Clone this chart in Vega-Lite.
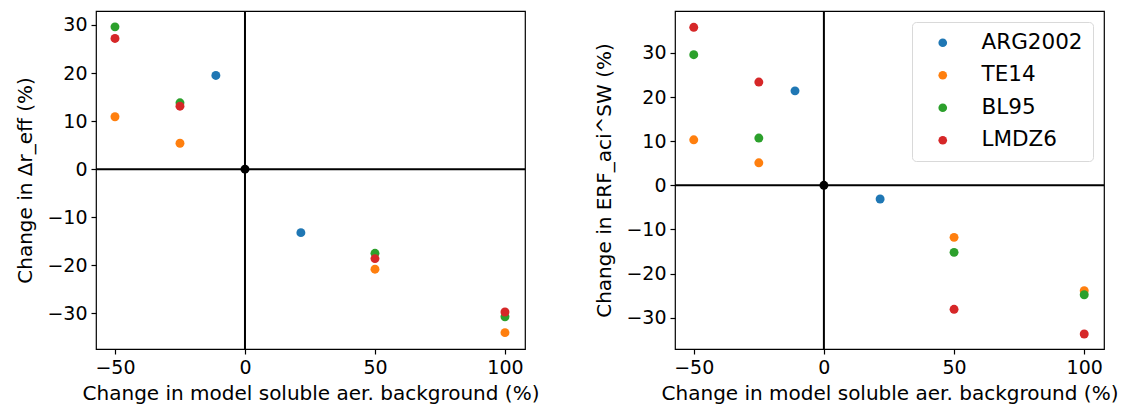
{
  "$schema": "https://vega.github.io/schema/vega-lite/v6.json",
  "padding": {"left": 15, "top": 9, "right": 5, "bottom": 5},
  "background": "white",
  "datasets": {
    "origin": [{"x": 0, "y": 0}],
    "left": [
      {"model": "ARG2002", "x": -11.2, "y": 19.5},
      {"model": "ARG2002", "x": 21.5, "y": -13.2},
      {"model": "TE14", "x": -50, "y": 10.9},
      {"model": "TE14", "x": -25, "y": 5.4},
      {"model": "TE14", "x": 50, "y": -20.8},
      {"model": "TE14", "x": 100, "y": -34.0},
      {"model": "BL95", "x": -50, "y": 29.6},
      {"model": "BL95", "x": -25, "y": 13.8},
      {"model": "BL95", "x": 50, "y": -17.5},
      {"model": "BL95", "x": 100, "y": -30.7},
      {"model": "LMDZ6", "x": -50, "y": 27.2},
      {"model": "LMDZ6", "x": -25, "y": 13.1},
      {"model": "LMDZ6", "x": 50, "y": -18.6},
      {"model": "LMDZ6", "x": 100, "y": -29.7}
    ],
    "right": [
      {"model": "ARG2002", "x": -11.1, "y": 21.4},
      {"model": "ARG2002", "x": 21.6, "y": -3.1},
      {"model": "TE14", "x": -50, "y": 10.3},
      {"model": "TE14", "x": -25, "y": 5.1},
      {"model": "TE14", "x": 50, "y": -11.8},
      {"model": "TE14", "x": 100, "y": -23.9},
      {"model": "BL95", "x": -50, "y": 29.6},
      {"model": "BL95", "x": -25, "y": 10.7},
      {"model": "BL95", "x": 50, "y": -15.2},
      {"model": "BL95", "x": 100, "y": -24.8},
      {"model": "LMDZ6", "x": -50, "y": 35.8},
      {"model": "LMDZ6", "x": -25, "y": 23.4},
      {"model": "LMDZ6", "x": 50, "y": -28.1},
      {"model": "LMDZ6", "x": 100, "y": -33.7}
    ]
  },
  "hconcat": [
    {
      "width": 429,
      "height": 338,
      "layer": [
        {"data": {"name": "origin"}, "mark": {"type": "rule", "color": "black", "strokeWidth": 2}, "encoding": {"x": {"field": "x", "type": "quantitative"}}},
        {"data": {"name": "origin"}, "mark": {"type": "rule", "color": "black", "strokeWidth": 2}, "encoding": {"y": {"field": "y", "type": "quantitative"}}},
        {
          "data": {"name": "left"},
          "mark": {"type": "point", "filled": true, "opacity": 1, "size": 80},
          "encoding": {
            "x": {"field": "x", "type": "quantitative", "scale": {"domain": [-57.3, 107.7], "nice": false, "zero": false}, "axis": {"values": [-50, 0, 50, 100], "title": "Change in model soluble aer. background (%)"}},
            "y": {"field": "y", "type": "quantitative", "scale": {"domain": [-37.4, 32.9], "nice": false, "zero": false}, "axis": {"values": [-30, -20, -10, 0, 10, 20, 30], "title": "Change in Δr_eff (%)"}},
            "color": {"field": "model", "type": "nominal", "scale": {"domain": ["ARG2002", "TE14", "BL95", "LMDZ6"], "range": ["#1f77b4", "#ff7f0e", "#2ca02c", "#d62728"]}, "legend": null}
          }
        },
        {"data": {"name": "origin"}, "mark": {"type": "point", "filled": true, "opacity": 1, "size": 80, "color": "black"}, "encoding": {"x": {"field": "x", "type": "quantitative"}, "y": {"field": "y", "type": "quantitative"}}}
      ]
    },
    {
      "width": 429,
      "height": 338,
      "layer": [
        {"data": {"name": "origin"}, "mark": {"type": "rule", "color": "black", "strokeWidth": 2}, "encoding": {"x": {"field": "x", "type": "quantitative"}}},
        {"data": {"name": "origin"}, "mark": {"type": "rule", "color": "black", "strokeWidth": 2}, "encoding": {"y": {"field": "y", "type": "quantitative"}}},
        {
          "data": {"name": "right"},
          "mark": {"type": "point", "filled": true, "opacity": 1, "size": 80},
          "encoding": {
            "x": {"field": "x", "type": "quantitative", "scale": {"domain": [-57.2, 107.6], "nice": false, "zero": false}, "axis": {"values": [-50, 0, 50, 100], "title": "Change in model soluble aer. background (%)"}},
            "y": {"field": "y", "type": "quantitative", "scale": {"domain": [-37.1, 39.5], "nice": false, "zero": false}, "axis": {"values": [-30, -20, -10, 0, 10, 20, 30], "title": "Change in ERF_aci^SW (%)"}},
            "color": {"field": "model", "type": "nominal", "scale": {"domain": ["ARG2002", "TE14", "BL95", "LMDZ6"], "range": ["#1f77b4", "#ff7f0e", "#2ca02c", "#d62728"]},
              "legend": {"title": null, "orient": "top-right", "offset": 11, "padding": 10, "strokeColor": "#d9d9d9", "fillColor": "white", "cornerRadius": 4, "labelFontSize": 21.5, "labelColor": "black", "symbolSize": 75, "symbolType": "circle", "symbolOffset": 10, "labelOffset": 28, "rowPadding": 9.5, "symbolStrokeWidth": 0}}
          }
        },
        {"data": {"name": "origin"}, "mark": {"type": "point", "filled": true, "opacity": 1, "size": 80, "color": "black"}, "encoding": {"x": {"field": "x", "type": "quantitative"}, "y": {"field": "y", "type": "quantitative"}}}
      ]
    }
  ],
  "spacing": 54,
  "resolve": {"scale": {"color": "independent", "x": "independent", "y": "independent"}, "legend": {"color": "independent"}},
  "config": {
    "font": "DejaVu Sans",
    "view": {"stroke": "black", "strokeWidth": 1.2},
    "axis": {"grid": false, "domain": false, "tickColor": "black", "tickSize": 5, "tickWidth": 1.2, "labelFontSize": 19, "labelColor": "black", "titleFontSize": 20, "titleFontWeight": "normal", "titleColor": "black", "labelPadding": 4, "titlePadding": 6},
    "axisY": {"titlePadding": 11}
  }
}
